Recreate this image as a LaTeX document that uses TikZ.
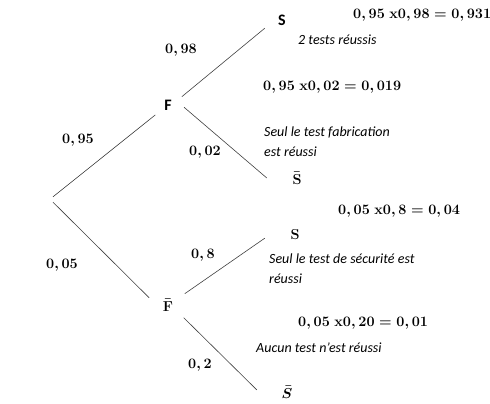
\documentclass[tikz,border=0pt]{standalone}
\usepackage{fontspec}
\newfontfamily\carlito{Carlito}
\begin{document}
\begin{tikzpicture}[
  x=1pt, y=-1pt,
  font=\fontsize{14}{16}\selectfont\boldmath,
  branch/.style={draw=black!75, line width=0.6pt},
  knot/.style={circle, inner sep=0pt, minimum size=32pt},
  leaf/.style={rectangle, inner sep=0pt, minimum width=60pt, minimum height=16pt},
  sanslbl/.style={font=\carlito\bfseries\fontsize{16}{18}\selectfont},
  prob/.style={inner sep=0pt},
  res/.style={anchor=west, inner sep=0pt},
  note/.style={anchor=west, inner sep=0pt, align=left, font=\carlito\itshape\fontsize{14}{20}\selectfont}
]
\useasboundingbox (0,0) rectangle (490,404);

% nodes of the tree
\node[circle, inner sep=0pt, minimum size=5pt] (root) at (53,199.5) {};
\node[knot, sanslbl] (F) at (168,105) {F};
\node[knot, minimum size=40pt] (Fb) at (168,305) {$\bar{\mathbf{F}}$};
\node[leaf, sanslbl, minimum width=34pt] (S1) at (282,20) {S};
\node[leaf] (Sb1) at (297,178) {$\bar{\mathbf{S}}$};
\node[leaf] (S2) at (295,235) {$\mathbf{S}$};
\node[leaf] (Sb2) at (287,392) {$\bar{S}$};

% branches
\draw[branch] (root.90) -- (F.218);
\draw[branch] (root.270) -- (Fb.159);
\draw[branch] (F.31) -- (S1.south west);
\draw[branch] (F.352) -- (Sb1.west);
\draw[branch] (Fb.34) -- (S2.186);
\draw[branch] (Fb.321) -- (Sb2.176);

% probabilities
\node[prob] (p95) at (78,140) {$0,95$};
\node[prob] (p05) at (62,265) {$0,05$};
\node[prob] (p98) at (181,50) {$0,98$};
\node[prob] (p02) at (205,152) {$0,02$};
\node[prob] (p8) at (203,255) {$0,8$};
\node[prob] (p2) at (200,365) {$0,2$};

% results
\node[res] (r1) at (353,15) {$0,95\ \mathbf{x}0,98=0,931$};
\node[res] (r2) at (263,87) {$0,95\ \mathbf{x}0,02=0,019$};
\node[res] (r3) at (338,211) {$0,05\ \mathbf{x}0,8=0,04$};
\node[res] (r4) at (298,323) {$0,05\ \mathbf{x}0,20=0,01$};

\node[note] (t1) at (298,40) {2 tests réussis};
\node[note] (t2) at (264,142) {Seul le test fabrication\\est réussi};
\node[note] (t3) at (269,269) {Seul le test de sécurité est\\réussi};
\node[note] (t4) at (256,348) {Aucun test n’est réussi};
\end{tikzpicture}
\end{document}
